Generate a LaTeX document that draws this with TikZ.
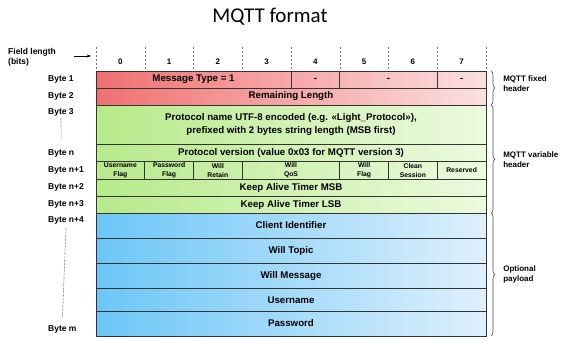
\documentclass[tikz,border=0pt]{standalone}
\usepackage{fontspec}
\setmainfont{Liberation Sans}
\newfontfamily\titlefont{Carlito}
\usetikzlibrary{positioning, arrows.meta, decorations.pathreplacing}
\definecolor{redL}{RGB}{240,112,112}
\definecolor{redR}{RGB}{252,224,224}
\definecolor{grnL}{RGB}{182,234,138}
\definecolor{grnR}{RGB}{236,250,222}
\definecolor{bluL}{RGB}{108,198,246}
\definecolor{bluR}{RGB}{222,240,253}
\tikzset{every node/.append style={execute at begin node={\hyphenpenalty=10000\exhyphenpenalty=10000\relax}}}

\begin{document}
\begin{tikzpicture}[x=1pt, y=-1pt, font=\bfseries\fontsize{9.7}{13}\selectfont, >={Stealth[length=1.5mm]},
  cell/.style={draw=black!80, line width=0.8pt, inner sep=0pt, outer sep=0pt, anchor=north west, align=center, minimum width=390pt},
  flag/.style={cell, minimum width=48.75pt, minimum height=17.5pt, font=\bfseries\fontsize{6.8}{9}\selectfont},
  bytelbl/.style={anchor=west, inner sep=1pt, font=\bfseries\fontsize{8.5}{10}\selectfont},
  brc/.style={decorate, decoration={brace, amplitude=4pt}, draw=black!70, line width=0.6pt},
  sidelbl/.style={anchor=west, align=left, inner sep=0pt, font=\bfseries\fontsize{8}{10}\selectfont}]
  \useasboundingbox (0,0) rectangle (566,341);
  \node[font=\titlefont\fontsize{21}{24}\selectfont] (title) at (270,17) {MQTT format};
  % bit ruler
  \node[bytelbl, align=left] (fieldlen) at (7,57) {Field length\\(bits)};
  \coordinate (arrowtail) at (74,56);
  \coordinate (arrowtip) at (91,56);
  \draw[->, line width=0.7pt] (arrowtail) -- (arrowtip);
  \foreach \i in {0,...,8}
    \draw[black!55, dash pattern=on 2pt off 2pt] (96+48.75*\i,47) -- (96+48.75*\i,71);
  \foreach \i in {0,...,7}
    \node[font=\bfseries\fontsize{8}{10}\selectfont] (bit\i) at (120.4+48.75*\i,62) {\i};
  % background gradients
  \shade[left color=redL, right color=redR] (96,71) rectangle (486,105);
  \shade[left color=grnL, right color=grnR] (96,105) rectangle (486,213);
  \shade[left color=bluL, right color=bluR] (96,213) rectangle (486,336);
  % fixed header
  \node[cell, minimum width=195pt, minimum height=17pt] (msgtype) at (96,71) {Message Type = 1};
  \node[cell, minimum width=48.75pt, minimum height=17pt, anchor=west, right=0pt of msgtype] (b1four) {-};
  \node[cell, minimum width=97.5pt, minimum height=17pt, anchor=west, right=0pt of b1four] (b1five) {-};
  \node[cell, minimum width=48.75pt, minimum height=17pt, anchor=west, right=0pt of b1five] (b1seven) {-};
  \node[cell, minimum height=17pt] (remlen) at (96,88) {Remaining Length};
  % variable header
  \node[cell, minimum height=39pt] (protname) at (96,105) {Protocol name UTF-8 encoded (e.g. «Light\_Protocol»),\\prefixed with 2 bytes string length (MSB first)};
  \node[cell, minimum height=17.5pt] (protver) at (96,144) {Protocol version (value 0x03 for MQTT version 3)};
  \node[flag] (userflag) at (96,161.5) {Username\\Flag};
  \node[flag, anchor=west, right=0pt of userflag] (passflag) {Password\\Flag};
  \node[flag, anchor=west, right=0pt of passflag] (willret) {Will\\Retain};
  \node[flag, minimum width=97.5pt, anchor=west, right=0pt of willret] (willqos) {Will\\QoS};
  \node[flag, anchor=west, right=0pt of willqos] (willflag) {Will\\Flag};
  \node[flag, anchor=west, right=0pt of willflag] (cleansess) {Clean\\Session};
  \node[flag, anchor=west, right=0pt of cleansess] (reserved) {Reserved};
  \node[cell, minimum height=17.5pt] (kamsb) at (96,179) {Keep Alive Timer MSB};
  \node[cell, minimum height=17pt] (kalsb) at (96,196.5) {Keep Alive Timer LSB};
  % payload
  \node[cell, minimum height=25pt] (clientid) at (96,213) {Client Identifier};
  \node[cell, minimum height=25pt] (willtopic) at (96,238) {Will Topic};
  \node[cell, minimum height=25.5pt] (willmsg) at (96,263) {Will Message};
  \node[cell, minimum height=22.5pt] (username) at (96,288.5) {Username};
  \node[cell, minimum height=25pt] (password) at (96,311) {Password};
  % byte labels
  \node[bytelbl] (lbl1) at (47,79.5) {Byte 1};
  \node[bytelbl] (lbl2) at (47,96) {Byte 2};
  \node[bytelbl] (lbl3) at (47,112) {Byte 3};
  \node[bytelbl] (lbln) at (47,153) {Byte n};
  \node[bytelbl] (lbln1) at (47,170) {Byte n+1};
  \node[bytelbl] (lbln2) at (47,187.5) {Byte n+2};
  \node[bytelbl] (lbln3) at (47,204.5) {Byte n+3};
  \node[bytelbl] (lbln4) at (47,220) {Byte n+4};
  \node[bytelbl] (lblm) at (47,329) {Byte m};
  \draw[black!65, line width=0.6pt, dash pattern=on 0.6pt off 0.8pt] ([yshift=-1pt]lbl3.south) -- ([yshift=8pt]lbln.north);
  \draw[black!65, line width=0.6pt, dash pattern=on 0.6pt off 0.8pt] ([yshift=-3pt]lbln4.south) -- ([yshift=6pt]lblm.north);
  % braces
  \draw[brc] ([xshift=5pt]b1seven.north east) -- ([xshift=5pt]remlen.south east)
    node[sidelbl, midway, xshift=12pt, yshift=4pt] (fixedlbl) {MQTT fixed\\header};
  \draw[brc] ([xshift=5pt]protname.north east) -- ([xshift=5pt]kalsb.south east)
    node[sidelbl, midway, xshift=12pt] (varlbl) {MQTT variable\\header};
  \draw[brc] ([xshift=5pt]clientid.north east) -- ([xshift=5pt]password.south east)
    node[sidelbl, midway, xshift=12pt] (paylbl) {Optional\\payload};
\end{tikzpicture}
\end{document}
